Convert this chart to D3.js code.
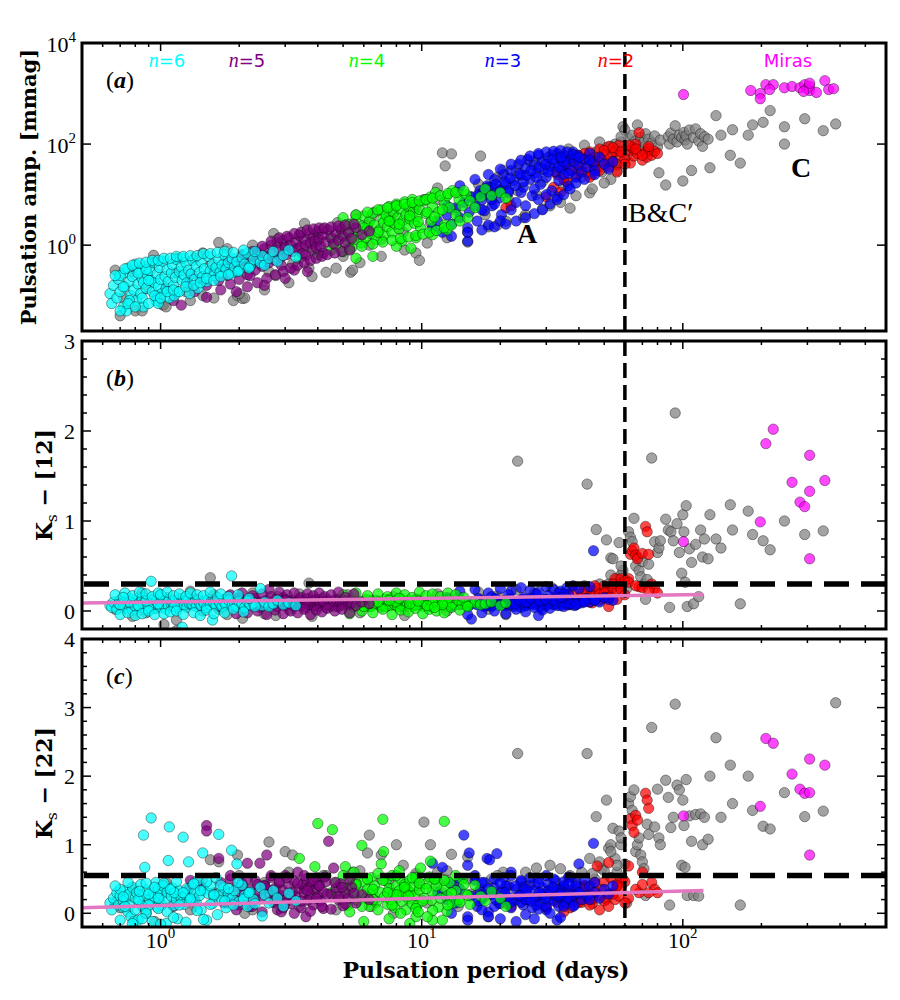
<!DOCTYPE html>
<html><head><meta charset="utf-8">
<script src="https://cdn.jsdelivr.net/npm/d3@7"></script>
<style>html,body{margin:0;padding:0;background:#fff}svg{display:block}</style>
</head><body>
<svg id="chart" width="900" height="1000"></svg>
<script>
// ---------- DATA: each star = [period (days), amplitude (mmag), Ks-[12], Ks-[22]] ----------
const grayStars = [
[0.67,0.32,0.02,0.16],[0.72,0.09,0.06,0.10],[0.80,0.05,0.09,0.30],[0.88,0.14,-0.02,0.00],[0.94,0.63,0.08,0.20],[1.02,0.065,0.12,0.35],[1.03,0.067,-0.15,0.40],[1.15,0.28,-0.22,0.16],[1.25,0.12,0.07,0.25],[1.35,0.55,0.10,0.10],
[1.45,0.10,0.05,0.35],[1.55,0.40,0.37,0.78],[1.67,1.13,0.02,0.75],[1.75,0.45,0.12,0.30],[1.90,0.08,0.08,0.20],[1.97,0.10,0.05,0.85],[2.06,0.088,-0.08,0.40],[2.10,0.09,0.10,0.00],[2.30,0.72,0.11,0.22],[2.60,0.30,0.07,1.04],
[2.71,1.70,0.09,0.30],[2.76,0.25,-0.05,0.15],[3.00,0.90,0.13,0.90],[3.20,0.42,0.06,0.85],[3.56,2.70,0.10,0.35],[3.70,0.35,0.31,0.20],[4.00,1.60,0.08,0.45],[4.30,0.29,0.04,0.55],[4.76,2.80,0.12,0.30],[5.00,0.60,0.07,0.25],
[5.34,0.29,0.09,0.40],[5.44,0.32,0.05,0.60],[5.60,3.90,0.11,0.20],[6.30,1.00,0.05,1.14],[6.20,2.50,0.11,0.88],[6.60,4.50,0.08,0.20],[7.00,1.30,0.06,0.85],[7.50,3.60,0.13,0.45],[8.00,6.00,0.09,1.00],[8.50,1.80,0.04,0.70],
[9.00,4.80,0.10,0.30],[9.50,0.70,0.07,0.55],[9.80,0.50,0.12,0.40],[10.2,8.00,0.08,1.33],[10.8,2.80,0.05,1.00],[11.5,13.5,0.11,0.60],[12.0,67,0.09,0.30],[12.3,37,0.07,0.50],[13.0,64,0.10,0.86],[13.5,5.0,0.12,0.40],
[15.0,1.15,0.06,0.82],[15.5,9.0,0.09,0.28],[16.8,58,0.11,0.35],[17.5,4.0,0.08,0.25],[18.5,14,0.05,0.50],[19.5,2.5,0.13,0.30],[20.5,30,0.09,0.60],[21.5,8.0,0.07,0.20],[23.3,12,1.665,2.33],[24.5,3.5,0.10,0.35],
[26.0,45,0.08,0.45],[27.5,10,0.12,0.66],[29.0,18,0.06,0.25],[31.0,6.0,0.11,0.70],[33.0,28,0.09,0.30],[35.0,15,0.14,0.40],[37.0,5.4,0.07,0.55],[39.0,40,0.12,0.35],[41.0,22,0.16,0.60],[43.0,55,1.41,2.33],
[44.0,10.8,0.20,0.80],[46.0,35,0.22,0.50],[46.6,70,0.905,1.41],[49.0,28,0.25,0.65],[51.0,85,0.79,1.65],[52.0,45,0.30,0.95],[53.0,20,0.59,1.00],[54.0,65,0.58,1.24],[55.0,100,0.32,0.80],[56.0,38,0.28,0.60],
[57.0,75,0.76,1.20],[58.0,110,0.40,1.00],[59.0,220,0.45,0.50],[60.0,190,0.35,0.72],[61.0,60,0.25,0.15],[62.0,130,0.88,1.60],[63.0,90,0.82,1.70],[64.0,150,0.77,1.50],[65.0,75,1.03,1.80],[66.0,115,0.50,0.90],
[67.0,240,0.60,1.00],[68.0,95,0.45,1.10],[69.0,135,0.38,0.85],[70.0,80,0.55,0.75],[71.0,110,0.30,0.65],[72.0,160,0.13,0.26],[73.0,70,0.35,1.30],[74.0,125,0.52,1.15],[76.0,105,1.70,2.71],[78.0,145,0.77,1.26],
[80.0,88,0.65,1.81],[81.0,27,0.70,1.10],[82.0,120,0.78,1.00],[86.0,15.5,1.02,1.94],[88.0,140,0.90,1.69],[89.0,100,0.04,0.12],[90.0,165,0.88,1.25],[92.0,125,0.78,1.40],[93.5,230,2.20,3.05],[95.0,110,0.97,1.87],
[97.0,150,0.65,1.80],[99.0,135,0.42,0.70],[100,18.6,1.07,1.65],[101,170,0.88,1.28],[102,120,0.32,0.67],[103,145,1.17,1.95],[104,100,0.05,0.26],[106,190,0.69,1.42],[108,30,0.54,1.05],[110,135,0.08,0.26],
[112,200,0.74,1.44],[115,115,0.16,0.25],[117,160,0.90,1.45],[119,90,0.60,1.00],[121,140,0.80,1.40],[125,125,0.58,1.08],[127,34,1.07,2.00],[134,366,0.80,2.56],[140,150,0.70,1.40],[152,60,1.18,2.16],
[155,192,0.90,1.60],[166,42,0.08,0.12],[178,150,1.11,2.00],[185,240,0.85,1.50],[203,270,0.78,1.27],[216,460,0.68,1.23],[245,220,1.00,1.76],[245,100,null,null],[293,317,0.85,1.41],[345,184,0.89,1.49],
[385,250,null,3.07],
[0.70,0.04,0.12,0.08],[0.78,0.30,-0.06,0.35],[0.85,0.05,0.20,0.10],[0.95,0.45,0.03,-0.12],[1.05,0.06,0.15,0.45],[1.15,0.55,-0.10,0.20],[1.30,0.08,0.22,0.05],[1.45,0.70,0.00,0.50],[1.60,0.09,0.18,0.30],[1.80,0.85,-0.04,0.15],
[2.00,0.11,0.12,0.55],[2.25,1.00,0.20,0.05],[2.50,0.13,-0.03,0.45],[2.80,1.30,0.16,0.25],[3.10,0.18,0.02,0.60],[3.40,1.60,0.19,0.10],[3.80,0.24,-0.06,0.40],[4.20,2.10,0.14,0.55],[4.70,0.35,0.05,0.05],[5.20,2.60,0.18,0.35],
[5.80,0.45,-0.02,0.62],[6.40,3.40,0.12,0.10],[7.00,0.60,0.04,0.50],[7.80,4.30,0.16,0.00],[8.60,0.80,-0.05,0.40],[9.50,5.50,0.13,0.58],[10.5,1.10,0.06,0.15],[11.5,8.0,0.19,0.45],[12.5,1.40,0.00,0.62],[13.8,11,0.15,0.10],
[15.0,1.8,0.08,0.50],[16.5,16,0.21,0.30],[18.0,2.3,0.02,-0.05],[19.5,22,0.17,0.55],[21.0,3.0,-0.04,0.38],[23.0,30,0.24,0.20],[25.0,4.0,0.06,0.60],[27.0,45,0.20,0.42],[29.0,5.2,0.03,0.12],[31.5,60,0.26,0.35],
[34.0,7.0,0.10,0.65],[36.5,80,0.22,0.30],[39.0,9.5,0.12,0.50],[42.0,95,0.28,0.40],[45.0,13,0.18,0.58],[48.0,110,0.30,0.75],[50.0,17,0.26,0.62],[53.0,90,0.40,0.90],[56.0,30,0.35,0.70],[58.0,140,0.50,1.10]
];
const redStars = [
[21,5.5,0.12,0.15],[22,6.0,0.10,0.10],[30,9.0,0.12,0.08],[32,14,0.08,0.25],[33,25,0.15,0.16],[34,11,0.10,0.30],[35,38,0.13,0.12],[36,18,0.07,0.22],[37,30,0.16,0.08],[38,45,0.11,0.35],
[39,24,0.09,0.18],[40,60,0.14,0.27],[41,35,0.20,0.16],[42,50,0.12,0.40],[43,28,0.18,0.22],[44,70,0.15,0.31],[45,42,0.22,0.14],[46,55,0.17,0.45],[47,33,0.25,0.69],[48,80,0.19,0.26],
[49,48,0.14,0.35],[50,62,0.28,0.46],[51,38,0.21,0.20],[52,90,0.05,0.74],[53,55,0.17,0.52],[54,45,0.26,0.30],[55,72,0.36,0.20],[56,40,0.23,0.42],[57,95,0.30,0.25],[58,60,0.36,0.50],
[60,50,0.33,0.46],[62,75,0.36,0.69],[63,42,0.63,1.38],[64,85,0.67,1.28],[65,58,0.70,1.18],[66,100,0.62,1.43],[67,65,0.58,1.36],[68,168,0.27,0.30],[70,48,0.64,0.60],[72,70,0.94,1.75],
[73,55,0.88,1.65],[74,80,0.63,1.53],[76,60,0.30,0.45],[78,72,0.25,0.35],[80,65,0.20,0.30],[35,20,0.09,0.02],[40,30,0.11,0.16],[45,25,0.09,0.20],
[38,55,0.22,0.25],[42,65,0.25,0.40],[46,45,0.28,0.32],[50,75,0.20,0.18],[54,85,0.30,0.28],[58,70,0.24,0.38],[62,95,0.32,0.22],[66,80,0.28,0.35],[70,60,0.26,0.42],[74,90,0.22,0.30],
[48,30,0.12,0.05],[52,35,0.15,0.10],[44,22,0.10,0.12],[56,28,0.13,0.40],[60,40,0.18,0.15]
];
const blueStars = [
[11.0,2.2,0.06,0.73],[11.5,3.0,0.10,0.30],[12.0,1.8,0.08,0.67],[12.5,4.0,0.12,0.20],[13.0,2.6,0.05,0.42],[13.5,5.5,0.09,0.15],[14.0,3.5,0.07,0.35],[14.5,7.0,0.11,1.14],[15.0,2.2,0.08,0.70],[15.2,4.5,0.06,0.88],
[15.5,9.0,-0.09,0.25],[16.0,6.0,0.10,0.48],[16.3,3.0,0.07,0.10],[16.7,12,0.12,0.33],[17.0,7.8,0.09,0.20],[17.4,4.8,0.05,0.45],[17.8,15,0.11,0.80],[18.2,10,0.08,0.78],[18.6,6.0,0.06,0.27],[19.0,20,0.13,0.38],
[19.4,13,0.10,0.87],[19.8,8.5,0.07,0.14],[20.2,4.0,0.09,0.31],[20.6,25,0.11,0.52],[21.0,16,0.06,0.22],[21.5,11,0.08,0.40],[22.0,30,0.12,0.60],[22.5,19,0.05,0.18],[23.0,7.0,0.10,0.35],[23.5,40,0.07,0.25],
[24.0,24,0.09,0.46],[24.5,14,0.13,0.12],[25.0,33,0.06,0.30],[25.5,50,0.10,0.20],[26.0,20,0.08,0.41],[26.5,9.5,0.11,0.08],[27.0,38,0.07,0.33],[27.5,27,0.09,0.23],[28.0,60,0.12,0.50],[28.5,16,0.05,0.15],
[29.0,45,0.10,0.37],[29.5,31,0.08,0.27],[30.0,22,0.06,0.05],[30.5,55,0.11,0.43],[31.0,36,0.09,0.20],[31.5,12,0.13,0.32],[32.0,42,0.07,0.18],[32.5,28,0.10,0.48],[33.0,65,0.08,0.25],[33.5,19,0.12,0.10],
[34.0,48,0.06,0.36],[34.5,33,0.09,0.22],[35.0,25,0.11,0.40],[35.5,58,0.08,0.15],[36.0,40,0.10,0.30],[36.5,15,0.07,0.53],[37.0,52,0.13,0.20],[37.5,30,0.09,0.34],[38.0,70,0.11,0.26],[38.5,45,0.06,0.12],
[39.0,22,0.10,0.44],[39.5,60,0.08,0.28],[40.0,38,0.12,0.72],[41.0,28,0.09,0.20],[42.0,50,0.11,0.36],[43.0,35,0.14,0.25],[44.0,65,0.10,0.40],[45.5,42,0.67,1.02],[46.0,30,0.12,0.30],[48.0,55,0.10,0.22],
[50.0,40,0.15,0.35],[52.0,32,0.13,0.28],[54.0,45,0.12,0.40],[13.0,1.5,0.07,0.00],[15.0,1.2,0.09,-0.05],[18.0,2.5,0.06,0.02],[20.0,3.0,0.10,-0.08],[22.0,5.0,0.07,0.08],[25.0,6.0,0.09,-0.02],[28.0,8.0,-0.05,0.06],
[30.0,10,0.08,0.10],[33.0,9.0,0.11,-0.10],[24.0,11,0.04,0.16],[27.0,13,0.09,0.22],[19.0,6.5,0.10,0.10],[17.0,5.0,0.08,0.05],
[14.0,15,0.22,0.50],[15.0,1.8,-0.04,-0.10],[16.0,20,0.24,0.55],[17.0,2.0,-0.02,0.45],[18.0,25,0.20,-0.05],[19.0,2.3,0.00,0.50],[20.0,32,0.25,0.15],[21.0,2.6,-0.03,0.40],[22.0,40,0.22,0.55],[23.0,3.0,0.02,-0.12],
[24.0,48,0.26,0.48],[25.0,3.5,-0.01,0.20],[26.0,58,0.23,0.52],[27.0,4.2,0.04,-0.08],[28.0,65,0.21,0.44],[29.0,5.0,0.01,0.28],[30.0,70,0.27,0.55],[31.0,6.5,0.03,0.00],[32.0,72,0.24,0.50],[33.0,8.0,0.06,0.34],
[34.0,75,0.22,-0.06],[35.0,10,0.05,0.46],[36.0,70,0.26,0.22],[37.0,13,0.08,0.52],[38.0,62,0.28,0.10],[39.0,17,0.07,0.40],[40.0,55,0.25,0.30],[42.0,20,0.10,0.50],[44.0,48,0.27,0.20],[46.0,25,0.12,0.45],
[18.5,8,0.16,0.30],[21.5,12,0.18,0.24],[24.5,18,0.15,0.38],[27.5,22,0.19,0.12],[30.5,28,0.17,0.32],[33.5,35,0.20,0.26],[36.5,26,0.18,0.42],[16.5,10,0.14,0.18],[12.5,6,0.15,0.25],[35.0,45,0.19,0.10],
[17.2,11,0.12,0.28],[18.0,14,0.09,0.36],[19.2,16,0.14,0.20],[20.0,12,0.07,0.44],[20.8,18,0.11,0.30],[21.8,21,0.13,0.16],[22.8,15,0.08,0.40],[23.8,26,0.12,0.26],[25.2,24,0.10,0.34],[26.2,30,0.14,0.18],
[28.2,35,0.11,0.30],[29.8,40,0.13,0.22],[31.8,50,0.12,0.38],[34.2,55,0.15,0.28]
];
const greenStars = [
[3.4,0.55,0.10,0.80],[3.8,0.90,0.07,0.25],[3.9,1.10,0.09,0.68],[4.0,0.65,0.12,1.31],[4.5,0.80,0.05,0.30],[4.55,1.30,0.11,1.22],[4.7,1.00,0.08,0.45],[4.9,1.60,0.13,0.20],[5.0,0.75,0.06,0.38],[5.1,2.00,0.09,0.68],
[5.2,1.20,0.10,0.12],[5.3,2.60,0.07,0.33],[5.4,0.90,0.12,0.50],[5.5,1.50,0.05,0.25],[5.6,3.20,0.09,0.41],[5.7,1.90,0.11,0.18],[5.9,1.10,0.08,0.99],[5.95,2.40,0.06,0.30],[6.0,3.80,0.10,0.46],[6.1,1.40,0.13,0.22],
[6.2,2.10,0.07,0.35],[6.3,2.90,0.09,0.10],[6.4,1.70,0.05,0.52],[6.5,4.30,0.11,0.28],[6.6,2.50,0.08,0.40],[6.7,1.30,0.12,0.16],[7.1,3.30,0.06,1.37],[6.9,2.00,0.10,0.31],[7.0,5.00,0.07,0.72],[7.15,2.80,0.09,0.90],
[7.2,1.60,0.13,0.24],[7.3,3.90,0.05,0.47],[7.4,2.30,0.11,0.13],[7.5,5.80,0.08,0.36],[7.6,3.00,0.06,0.20],[7.7,1.80,0.10,0.55],[7.8,4.50,0.12,0.29],[7.9,2.60,0.07,0.08],[8.0,6.50,0.09,0.40],[8.1,3.50,0.05,0.23],
[8.2,2.10,0.11,0.33],[8.3,5.20,0.08,0.50],[8.4,1.20,0.13,0.17],[8.5,3.10,0.06,0.27],[8.6,7.20,0.10,0.42],[8.7,4.00,0.07,0.05],[8.8,2.40,0.09,0.35],[8.9,5.80,0.12,0.21],[9.0,3.30,0.05,0.48],[9.1,0.87,0.10,0.30],
[9.2,8.00,0.08,0.14],[9.3,4.60,0.06,0.39],[9.4,2.70,0.11,0.26],[9.5,6.40,0.09,0.52],[9.6,3.70,0.13,0.11],[9.8,5.10,0.07,0.34],[9.9,2.20,0.10,0.66],[10.2,7.50,0.05,0.22],[10.4,4.20,0.08,0.43],[10.8,9.00,0.12,0.76],
[10.9,3.00,0.06,0.19],[11.0,5.80,0.09,0.31],[11.3,11.0,0.11,0.50],[11.6,4.50,0.07,0.09],[12.2,7.00,0.10,1.34],[12.2,2.50,0.08,0.37],[12.5,9.50,0.05,0.25],[12.8,5.50,0.12,0.45],[13.1,12.0,0.09,0.15],[13.5,4.00,0.07,0.33],
[13.9,8.00,0.11,0.20],[14.3,6.00,0.08,0.50],[14.8,10.0,0.06,0.28],[15.3,7.50,0.10,0.13],[16.0,5.50,0.09,0.41],[16.8,9.00,0.07,0.25],[17.5,13.0,0.08,0.18],[18.5,9.50,0.10,0.32],[20.0,11.0,0.06,0.22],[21.0,8.50,0.09,0.10],
[6.5,0.60,0.08,0.35],[8.0,0.95,0.10,0.27],[5.6,0.55,0.06,0.44],[11.0,1.60,0.09,-0.10],[9.5,1.40,0.07,-0.05],[12.5,2.00,0.11,0.03],
[5.0,3.5,0.18,0.55],[5.3,0.85,-0.03,0.02],[5.6,4.0,0.20,0.42],[5.9,0.95,0.00,0.10],[6.2,4.5,0.17,0.50],[6.5,1.05,-0.02,0.20],[6.8,5.0,0.19,0.05],[7.1,1.15,0.02,0.48],[7.4,5.5,0.16,0.30],[7.7,1.25,-0.04,0.12],
[8.0,6.0,0.20,0.55],[8.3,1.35,0.01,0.00],[8.6,6.5,0.18,0.38],[8.9,1.45,-0.01,0.25],[9.2,7.0,0.15,0.52],[9.5,1.55,0.03,0.07],[9.8,7.5,0.21,0.44],[10.1,1.65,-0.03,0.18],[10.4,8.0,0.17,0.36],[10.7,1.80,0.02,0.53],
[11.0,8.5,0.19,0.04],[11.4,1.95,0.00,0.40],[11.8,9.5,0.16,0.22],[12.2,2.20,-0.02,0.48],[12.6,10.5,0.20,0.12],[13.0,2.50,0.04,0.30],[13.5,11.0,0.18,0.55],[14.0,3.00,0.01,0.16],[14.5,12.0,0.15,0.42],[15.0,3.50,0.05,0.26],
[6.0,2.2,0.05,-0.12],[7.5,3.0,0.12,-0.08],[9.0,3.8,0.08,-0.15],[10.5,4.5,0.06,-0.05],[8.2,2.6,0.14,0.62],[6.8,1.8,0.10,0.58],[12.0,5.0,0.07,-0.10],[5.5,1.3,0.09,0.60],[9.7,2.9,0.11,0.02],[11.2,3.6,0.04,0.50]
];
const purpleStars = [
[0.97,0.10,0.08,0.20],[1.05,0.14,0.12,0.30],[1.12,0.08,0.05,0.10],[1.20,0.065,0.10,0.25],[1.28,0.18,0.07,0.35],[1.35,0.12,0.14,0.20],[1.42,0.22,0.06,0.40],[1.50,0.093,0.10,1.28],[1.50,0.16,0.08,1.20],[1.60,0.28,0.12,0.28],
[1.67,0.20,0.05,0.80],[1.70,0.13,0.09,0.45],[1.75,0.35,0.13,0.15],[1.80,0.25,0.07,0.32],[1.85,0.17,0.10,0.50],[1.90,0.42,0.06,0.22],[1.95,0.30,0.11,0.38],[2.00,0.21,0.15,0.12],[2.05,0.50,0.08,0.44],[2.10,0.36,0.05,0.27],
[2.15,0.26,0.12,0.73],[2.20,0.60,0.09,0.35],[2.25,0.43,0.06,0.18],[2.30,0.32,0.14,0.48],[2.35,0.72,0.08,0.30],[2.40,0.52,0.04,0.73],[2.45,0.38,0.10,0.22],[2.50,0.85,0.07,0.41],[2.55,0.60,0.12,0.85],[2.60,0.45,0.24,0.29],
[2.65,1.00,0.06,0.52],[2.70,0.70,0.09,0.16],[2.75,0.50,0.13,0.37],[2.80,1.10,0.05,0.05],[2.85,0.80,0.10,0.44],[2.90,0.58,0.08,0.26],[2.95,1.25,0.15,0.33],[3.00,0.90,0.06,0.55],[3.05,0.65,0.11,0.21],[3.10,1.40,0.07,0.40],
[3.15,1.00,0.09,0.14],[3.20,0.75,0.12,0.31],[3.25,0.32,0.05,0.47],[3.30,1.15,0.10,0.25],[3.35,0.85,0.08,0.60],[3.40,1.55,0.13,0.36],[3.45,0.95,0.06,0.08],[3.50,0.68,0.11,0.42],[3.55,1.30,0.09,0.30],[3.60,1.00,0.04,0.50],
[3.65,0.30,0.14,0.19],[3.70,1.70,0.07,0.38],[3.75,1.10,0.10,0.27],[3.80,0.80,0.12,0.45],[3.85,1.45,0.06,0.12],[3.90,1.20,0.09,0.34],[3.95,0.90,0.13,0.52],[4.00,1.85,0.05,0.25],[4.05,1.30,0.10,0.40],[4.10,0.95,0.08,0.18],
[4.20,1.60,0.11,0.31],[4.30,1.15,0.07,0.46],[4.40,2.00,0.12,1.05],[4.50,1.40,0.06,0.28],[4.60,1.05,0.09,0.66],[4.70,1.75,0.13,0.37],[4.80,1.25,0.05,0.20],[4.90,2.10,0.10,0.43],[5.00,1.50,0.08,0.11],[5.10,1.10,0.11,0.30],
[5.25,1.80,0.07,0.22],[5.40,1.35,0.09,0.38],[5.60,2.20,0.06,0.15],[5.90,1.60,0.10,0.27],[6.30,1.90,0.08,0.20],[2.20,0.25,0.10,0.10],[2.90,0.40,0.07,0.02],[3.60,0.62,0.09,-0.05],[4.20,0.70,0.11,0.07],[1.30,0.27,0.08,0.48],
[1.85,0.50,0.18,0.55],[1.95,0.12,-0.03,0.05],[2.05,0.65,0.20,0.30],[2.15,0.15,-0.02,0.50],[2.25,0.75,0.17,0.10],[2.35,0.18,0.00,0.42],[2.45,0.95,0.19,0.02],[2.55,0.22,-0.04,0.36],[2.65,1.20,0.16,0.55],[2.75,0.26,0.01,0.20],
[2.85,1.40,0.21,0.47],[2.95,0.30,-0.03,0.08],[3.05,1.50,0.18,0.52],[3.15,0.35,0.00,0.25],[3.25,1.70,0.20,0.00],[3.35,0.40,-0.02,0.44],[3.45,1.80,0.15,0.18],[3.55,0.45,0.02,0.55],[3.65,2.00,0.19,0.33],[3.75,0.50,-0.04,0.03],
[3.85,2.10,0.17,0.48],[3.95,0.55,0.01,0.22],[4.05,2.20,0.20,0.40],[4.15,0.60,-0.01,0.10],[4.25,2.20,0.16,0.53],[4.35,0.65,0.03,0.28],[4.50,2.30,0.18,0.06],[4.65,0.70,0.00,0.45],[4.80,2.40,0.21,0.24],[4.95,0.75,0.02,0.38],
[5.10,2.50,0.15,0.14],[5.30,0.80,-0.02,0.50],[5.50,2.60,0.19,0.29],[2.50,0.16,0.07,0.40],[3.00,0.22,0.12,0.15]
];
const cyanStars = [
[0.64,0.11,0.06,0.15],[0.65,0.07,0.04,0.05],[0.66,0.16,0.10,0.22],[0.68,0.09,0.02,0.30],[0.69,0.21,0.08,0.12],[0.70,0.12,0.12,0.25],[0.72,0.06,0.05,0.18],[0.72,0.28,0.09,0.08],[0.73,0.15,0.03,0.33],[0.74,0.05,0.11,0.21],
[0.75,0.35,0.07,0.02],[0.76,0.19,0.14,0.28],[0.77,0.10,0.06,-0.05],[0.78,0.24,0.01,0.38],[0.79,0.13,0.09,-0.12],[0.80,0.42,0.05,0.22],[0.81,0.08,0.13,0.30],[0.82,0.17,0.08,-0.10],[0.83,0.30,0.04,0.19],[0.84,0.11,0.10,0.42],
[0.85,0.22,0.15,0.11],[0.86,0.18,0.09,1.14],[0.86,0.06,0.07,0.26],[0.87,0.38,0.02,0.67],[0.88,0.14,0.11,0.05],[0.89,0.26,0.06,0.34],[0.91,0.31,0.08,0.20],[0.92,0.20,0.33,1.39],[0.93,0.12,0.12,0.16],[0.94,0.45,0.05,0.30],
[0.95,0.18,0.09,0.24],[0.96,0.08,0.03,0.45],[0.97,0.27,0.13,0.09],[0.98,0.15,0.07,0.36],[0.99,0.36,0.10,0.18],[1.00,0.21,0.04,0.28],[1.01,0.11,0.16,0.12],[1.02,0.48,0.08,0.40],[1.04,0.24,0.11,0.21],[1.05,0.14,0.02,-0.15],
[1.06,0.33,0.09,0.31],[1.07,0.19,0.06,0.77],[1.08,0.09,0.13,1.26],[1.10,0.28,0.07,0.25],[1.11,0.41,0.10,0.37],[1.12,0.16,0.05,0.11],[1.14,0.23,0.12,0.29],[1.15,0.52,0.08,0.20],[1.16,0.12,0.03,-0.08],[1.18,0.30,0.14,0.33],
[1.20,0.37,0.07,0.22],[1.21,0.20,-0.18,0.16],[1.22,0.55,0.11,1.11],[1.23,0.26,0.06,0.13],[1.25,0.45,0.10,0.27],[1.26,0.18,0.04,0.36],[1.28,0.32,0.13,0.75],[1.29,0.11,0.08,0.18],[1.31,0.27,0.08,0.23],[1.33,0.50,0.07,0.42],
[1.35,0.21,0.10,0.31],[1.37,0.38,0.05,0.15],[1.39,0.14,0.12,0.48],[1.41,0.29,0.09,0.26],[1.43,0.47,0.06,0.05],[1.45,0.24,0.11,0.88],[1.47,0.34,0.08,0.34],[1.50,0.19,0.04,-0.10],[1.52,0.60,0.13,0.29],[1.55,0.31,0.07,0.40],
[1.58,0.42,-0.10,0.14],[1.60,0.25,0.09,0.25],[1.63,0.36,0.06,0.52],[1.67,0.52,0.11,1.15],[1.69,0.29,0.08,0.30],[1.72,0.40,0.05,0.19],[1.75,0.65,0.10,0.37],[1.78,0.33,0.07,0.08],[1.82,0.45,0.12,0.28],[1.87,0.28,0.39,0.92],
[1.88,0.55,0.06,0.22],[1.92,0.37,0.09,0.33],[1.96,0.47,0.05,0.72],[2.00,0.32,0.10,0.17],[2.05,0.58,0.08,0.41],[2.10,0.42,0.04,0.26],[2.15,0.70,0.11,0.10],[2.20,0.38,0.07,0.31],[2.27,0.52,0.09,0.20],[2.41,0.45,0.25,0.38],
[2.45,0.62,0.06,-0.04],[2.50,0.40,0.10,0.27],[2.60,0.55,0.05,0.15],[2.70,0.75,0.08,0.33],[2.80,0.48,0.12,0.22],[2.95,0.63,0.07,0.10],[3.10,0.80,0.09,0.29],[3.30,0.58,0.06,0.18],[0.76,0.08,0.10,0.11],[0.82,0.28,0.06,0.20],
[0.90,0.20,0.03,0.12],[0.98,0.07,0.08,0.22],[1.13,0.10,0.05,0.30],[0.70,0.25,0.07,0.35],[0.88,0.33,0.11,0.00],
[0.67,0.25,0.18,0.40],[0.70,0.05,-0.04,-0.10],[0.73,0.34,0.20,0.10],[0.75,0.07,-0.02,0.45],[0.78,0.40,0.17,-0.15],[0.80,0.06,-0.05,0.05],[0.83,0.44,0.21,0.32],[0.85,0.09,-0.03,-0.08],[0.88,0.46,0.19,0.44],[0.90,0.07,0.00,0.28],
[0.93,0.50,0.16,-0.12],[0.95,0.10,-0.04,0.38],[0.98,0.50,0.20,0.07],[1.00,0.09,0.18,-0.16],[1.03,0.55,-0.03,0.44],[1.06,0.12,0.21,0.02],[1.09,0.55,-0.01,0.35],[1.12,0.13,0.17,-0.06],[1.15,0.60,0.00,0.46],[1.18,0.12,0.19,0.12],
[1.22,0.60,-0.04,0.30],[1.25,0.15,0.16,-0.13],[1.30,0.62,0.20,0.21],[1.34,0.16,-0.02,0.43],[1.38,0.62,0.18,0.04],[1.42,0.18,-0.05,0.33],[1.46,0.68,0.17,-0.09],[1.50,0.22,0.01,0.46],[1.55,0.68,0.21,0.13],[1.60,0.20,-0.03,0.27],
[1.65,0.72,0.15,-0.02],[1.70,0.24,0.19,0.41],[1.76,0.75,-0.02,0.18],[1.82,0.26,0.16,0.36],[1.90,0.72,0.02,0.12],[1.98,0.30,0.18,0.45],[2.08,0.80,-0.01,0.21],[2.18,0.35,0.14,0.30],[2.30,0.75,0.05,0.14],[0.72,0.15,0.15,0.24]
];
const miraStars = [
[100.6,955,0.77,1.42],[182,1150,null,null],[198,1000,0.99,1.56],[198,790,null,null],[208,1500,1.86,2.55],[222,1500,2.02,2.48],[215,1200,null,null],[245,1300,null,null],[262,1380,1.43,2.03],[281,1300,1.21,1.81],
[293,1500,1.16,1.75],[300,1250,null,null],[306,1400,1.33,1.76],[306,1150,1.73,2.25],[306,1600,0.58,0.85],[325,1050,null,null],[350,1800,1.45,2.16],[362,1200,null,null],[378,1250,null,null],[290,1100,null,null]
];
// reference lines
const periodBoundary = 60;             // vertical dashed line (days)
const k12Limit = 0.3, k22Limit = 0.55; // horizontal dashed lines
const fitK12 = [[0.5,0.088],[120,0.184]];
const fitK22 = [[0.5,0.08],[120,0.334]];
// tick labels
const periodTicks = [1,10,100], periodTickExp = ['0','1','2'];
const ampTicks = [1,100,10000], ampTickExp = ['0','2','4'];
const k12Ticks = [0,1,2,3], k22Ticks = [0,1,2,3,4];
const seqLabels = ['6','5','4','3','2'];

// ---------- LAYOUT ----------
const L = 82, R = 886, PH = 288;
const svg = d3.select('#chart');
const serif = "'Liberation Serif', 'DejaVu Serif', serif";
const bserif = "'DejaVu Serif', 'Liberation Serif', serif";
const x = d3.scaleLog().domain([0.5, 600]).range([L, R]);

const groups = [
  {data: grayStars,   color: '#808080'},
  {data: redStars,    color: '#ff0000'},
  {data: blueStars,   color: '#0000ff'},
  {data: greenStars,  color: '#00ff00'},
  {data: purpleStars, color: '#800080'},
  {data: cyanStars,   color: '#00ffff'},
  {data: miraStars,   color: '#ff00ff'}
];

const panels = [
  {top: 43,  y: d3.scaleLog().domain([0.02, 1e4]).range([PH, 0]), col: 1, letter: 'a'},
  {top: 341, y: d3.scaleLinear().domain([-0.2, 3]).range([PH, 0]), col: 2, letter: 'b'},
  {top: 639, y: d3.scaleLinear().domain([-0.2, 4]).range([PH, 0]), col: 3, letter: 'c'}
];

const defs = svg.append('defs');

panels.forEach((p, pi) => {
  const g = svg.append('g').attr('transform', `translate(0,${p.top})`);
  defs.append('clipPath').attr('id', 'clip' + pi)
    .append('rect').attr('x', L).attr('y', 0).attr('width', R - L).attr('height', PH);
  const plot = g.append('g').attr('clip-path', `url(#clip${pi})`);

  groups.forEach(gr => {
    plot.append('g').selectAll('circle')
      .data(gr.data.filter(d => d[p.col] !== null && d[p.col] !== undefined))
      .join('circle')
      .attr('cx', d => x(d[0]))
      .attr('cy', d => p.y(d[p.col]))
      .attr('r', 5.2)
      .attr('fill', gr.color)
      .attr('fill-opacity', 0.72)
      .attr('stroke', '#000')
      .attr('stroke-opacity', 0.55)
      .attr('stroke-width', 0.7);
  });

  plot.append('line')
    .attr('x1', x(periodBoundary)).attr('x2', x(periodBoundary))
    .attr('y1', pi === 0 ? 9 : 0).attr('y2', PH)
    .attr('stroke', '#000').attr('stroke-width', 3.5)
    .attr('stroke-dasharray', '15,7');

  if (pi > 0) {
    const lim = pi === 1 ? k12Limit : k22Limit;
    plot.append('line')
      .attr('x1', L + 2).attr('x2', R)
      .attr('y1', p.y(lim)).attr('y2', p.y(lim))
      .attr('stroke', '#000').attr('stroke-width', 5.5)
      .attr('stroke-dasharray', '25,12');
    const fit = pi === 1 ? fitK12 : fitK22;
    plot.append('path')
      .attr('d', d3.line().x(d => x(d[0])).y(d => p.y(d[1]))(fit))
      .attr('stroke', '#e377c2').attr('stroke-width', 3.5).attr('fill', 'none');
  }

  const xt = x.ticks().filter(v => v >= 0.5 && v <= 600);
  xt.forEach(v => {
    const major = Math.abs(Math.log10(v) - Math.round(Math.log10(v))) < 1e-9;
    const len = major ? 8 : 4;
    const xx = x(v);
    g.append('line').attr('x1', xx).attr('x2', xx).attr('y1', PH).attr('y2', PH - len)
      .attr('stroke', '#000').attr('stroke-width', 1.5);
    g.append('line').attr('x1', xx).attr('x2', xx).attr('y1', 0).attr('y2', len)
      .attr('stroke', '#000').attr('stroke-width', 1.5);
  });

  let majors, minors = [];
  if (pi === 0) majors = ampTicks;
  else {
    majors = pi === 1 ? k12Ticks : k22Ticks;
    const ymax = p.y.domain()[1];
    minors = d3.range(-0.2, ymax + 1e-6, 0.2).filter(v => Math.abs(v - Math.round(v)) > 1e-6);
  }
  const ytick = (v, len) => {
    const yy = p.y(v);
    g.append('line').attr('x1', L).attr('x2', L + len).attr('y1', yy).attr('y2', yy)
      .attr('stroke', '#000').attr('stroke-width', 1.5);
    g.append('line').attr('x1', R).attr('x2', R - len).attr('y1', yy).attr('y2', yy)
      .attr('stroke', '#000').attr('stroke-width', 1.5);
  };
  majors.forEach(v => ytick(v, 9));
  minors.forEach(v => ytick(v, 5));

  majors.forEach((v, i) => {
    const yy = p.y(v);
    if (pi === 0) {
      const t = g.append('text').attr('x', 76).attr('y', yy + 9)
        .attr('text-anchor', 'end').attr('font-family', serif).attr('font-size', 22);
      t.append('tspan').text('10');
      t.append('tspan').attr('dy', -10).attr('font-size', 15).text(ampTickExp[i]);
    } else {
      g.append('text').attr('x', 75).attr('y', yy + 8)
        .attr('text-anchor', 'end').attr('font-family', serif).attr('font-size', 22)
        .text(String(v));
    }
  });

  g.append('rect').attr('x', L).attr('y', 0).attr('width', R - L).attr('height', PH)
    .attr('fill', 'none').attr('stroke', '#000').attr('stroke-width', 3);

  const pt = g.append('text').attr('x', 106).attr('y', 45)
    .attr('font-family', serif).attr('font-size', 24);
  pt.append('tspan').text('(');
  pt.append('tspan').attr('font-weight', 'bold').attr('font-style', 'italic').text(p.letter);
  pt.append('tspan').text(')');

  if (pi === 0) {
    g.append('text').attr('transform', `translate(36,${PH / 2}) rotate(-90)`)
      .attr('text-anchor', 'middle').attr('font-family', bserif).attr('font-weight', 'bold')
      .attr('font-size', 21).text('Pulsation amp. [mmag]');
  } else {
    const t = g.append('text').attr('transform', `translate(52,${PH / 2}) rotate(-90)`)
      .attr('text-anchor', 'middle').attr('font-family', bserif).attr('font-weight', 'bold')
      .attr('font-size', 22);
    t.append('tspan').text('K');
    t.append('tspan').attr('font-size', 15).attr('dy', 5).attr('font-weight', 'normal').text('s');
    t.append('tspan').attr('dy', -5).text(pi === 1 ? ' − [12]' : ' − [22]');
  }
});

const bottomY = 639 + PH;
periodTicks.forEach((v, i) => {
  const t = svg.append('text').attr('x', x(v)).attr('y', bottomY + 21)
    .attr('text-anchor', 'middle').attr('font-family', serif).attr('font-size', 22);
  t.append('tspan').text('10');
  t.append('tspan').attr('dy', -10).attr('font-size', 15).text(periodTickExp[i]);
});
svg.append('text').attr('x', (L + R) / 2 + 2).attr('y', 978)
  .attr('text-anchor', 'middle').attr('font-family', bserif).attr('font-weight', 'bold')
  .attr('font-size', 22).text('Pulsation period (days)');

const seqColors = ['#00ffff', '#800080', '#00ff00', '#0000ff', '#ff0000'];
const seqX = [167, 247, 367, 503, 616];
seqLabels.forEach((s, i) => {
  const t = svg.append('text').attr('x', seqX[i]).attr('y', 67).attr('text-anchor', 'middle')
    .attr('fill', seqColors[i]).attr('font-size', 18);
  t.append('tspan').attr('font-family', serif).attr('font-style', 'italic').attr('font-size', 20).text('n');
  t.append('tspan').attr('font-family', "'DejaVu Sans', sans-serif").text('=' + s);
});
svg.append('text').attr('x', 788).attr('y', 67).attr('text-anchor', 'middle')
  .attr('fill', '#ff00ff').attr('font-family', "'DejaVu Sans', sans-serif").attr('font-size', 18).text('Miras');
svg.append('text').attr('x', 527).attr('y', 243).attr('text-anchor', 'middle')
  .attr('font-family', serif).attr('font-weight', 'bold').attr('font-size', 28).text('A');
svg.append('text').attr('x', 628).attr('y', 222)
  .attr('font-family', serif).attr('font-size', 28).text('B&C′');
svg.append('text').attr('x', 801).attr('y', 177).attr('text-anchor', 'middle')
  .attr('font-family', serif).attr('font-weight', 'bold').attr('font-size', 28).text('C');
</script>
</body></html>
